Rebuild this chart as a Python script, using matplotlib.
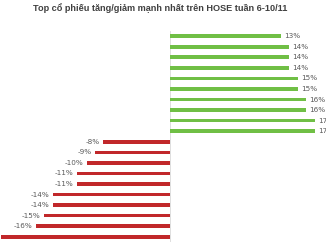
import matplotlib
matplotlib.use('Agg')
import matplotlib.pyplot as plt
import numpy as np

# % thay doi gia trong tuan, tu tren xuong duoi
tang = [13, 14, 14, 14, 15, 15, 16, 16, 17, 17]
giam = [-7.9, -8.8, -9.8, -10.9, -10.9, -13.8, -13.8, -14.8, -15.8, -19.9]

title = 'Top cổ phiếu tăng/giảm mạnh nhất trên HOSE tuần 6-10/11'

green = '#70bf45'
red = '#c1282a'

fig = plt.figure(figsize=(3.26, 2.45), dpi=100)
ax = fig.add_axes([0, 0.012, 1, 0.862])

vals = tang + giam
cols = [green] * len(tang) + [red] * len(giam)
y = np.arange(len(vals))
ax.barh(y, vals, height=0.34, color=cols)
ax.axvline(0, color='#d9d9d9', lw=0.6, zorder=0)

for yi, v in zip(y, vals):
    txt = '%.0f%%' % v
    if v > 0:
        ax.annotate(txt, (v, yi), xytext=(2.5, 0), textcoords='offset points',
                    ha='left', va='center', fontsize=5.2, color='#595959')
    else:
        ax.annotate(txt, (v, yi), xytext=(-2.5, 0), textcoords='offset points',
                    ha='right', va='center', fontsize=5.2, color='#595959')

ax.set_xlim(-20, 18.35)
ax.set_ylim(len(vals) - 0.5, -0.5)
ax.axis('off')

fig.text(0.49, 0.967, title, ha='center', va='center', fontsize=6.6,
         fontweight='bold', color='#404040', family='Liberation Sans')

fig.savefig('out.png', dpi=100)
